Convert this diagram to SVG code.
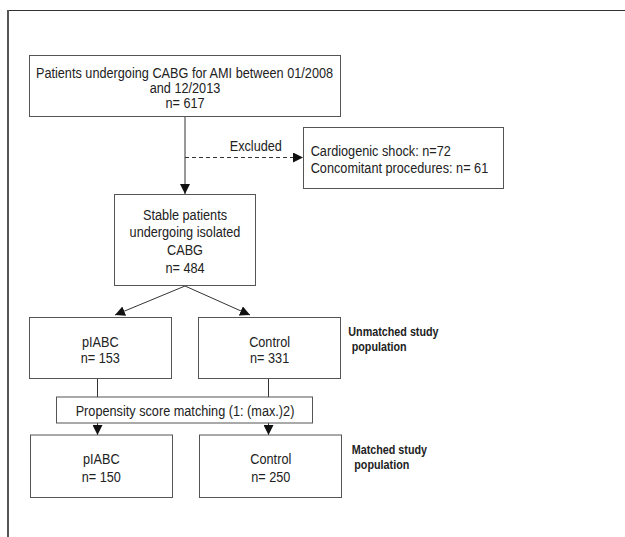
<svg xmlns="http://www.w3.org/2000/svg" width="625" height="537" viewBox="0 0 625 537">
<style>
.box{fill:#fff;stroke:#555;stroke-width:1}
.t{font-family:"Liberation Sans",Arial,sans-serif;font-size:14.5px;fill:#222;text-anchor:middle}
.tl{font-family:"Liberation Sans",Arial,sans-serif;font-size:14.5px;fill:#222;text-anchor:start}
.b{font-family:"Liberation Sans",Arial,sans-serif;font-size:12.3px;font-weight:bold;fill:#222;text-anchor:start}
.ln{stroke:#333;stroke-width:1;fill:none}
</style>
<defs>
<marker id="ah" viewBox="0 0 10 10" refX="10" refY="5" markerWidth="10" markerHeight="10" markerUnits="userSpaceOnUse" orient="auto">
<path d="M0,0 L10,5 L0,10 z" fill="#111"/>
</marker>
</defs>
<rect x="0" y="0" width="625" height="537" fill="#fff"/>
<g id="frame">
<line x1="7" y1="10.5" x2="625" y2="10.5" stroke="#333" stroke-width="1"/>
<line x1="8" y1="10" x2="8" y2="537" stroke="#555" stroke-width="2"/>
</g>
<g id="connectors">
<line class="ln" x1="185" y1="117" x2="185" y2="194" marker-end="url(#ah)"/>
<line class="ln" x1="185" y1="157.5" x2="303" y2="157.5" stroke-dasharray="4,3" marker-end="url(#ah)"/>
<line class="ln" x1="185" y1="286" x2="115" y2="315" marker-end="url(#ah)"/>
<line class="ln" x1="185" y1="286" x2="250" y2="315" marker-end="url(#ah)"/>
<line class="ln" x1="97.5" y1="379" x2="97.5" y2="397"/>
<line class="ln" x1="268.5" y1="379" x2="268.5" y2="397"/>
<line class="ln" x1="97.5" y1="423" x2="97.5" y2="435" marker-end="url(#ah)"/>
<line class="ln" x1="268.5" y1="423" x2="268.5" y2="435" marker-end="url(#ah)"/>
<text class="t" font-size="16" transform="translate(255.8,150.5) scale(0.876,1)">Excluded</text>
</g>
<g id="n-top">
<rect class="box" x="29.5" y="55.5" width="311" height="61"/>
<text class="t" transform="translate(184.5,77.5) scale(0.876,1)">Patients undergoing CABG for AMI between 01/2008</text>
<text class="t" transform="translate(185,92.5) scale(0.876,1)">and 12/2013</text>
<text class="t" transform="translate(185,107.5) scale(0.876,1)">n= 617</text>
</g>
<g id="n-excluded">
<rect class="box" x="303.5" y="127.5" width="200" height="61"/>
<text class="tl" transform="translate(310.7,156) scale(0.876,1)">Cardiogenic shock: n=72</text>
<text class="tl" transform="translate(310.7,172.5) scale(0.876,1)">Concomitant procedures: n= 61</text>
</g>
<g id="n-stable">
<rect class="box" x="114.5" y="194.5" width="141" height="91"/>
<text class="t" transform="translate(185,220) scale(0.876,1)">Stable patients</text>
<text class="t" transform="translate(185,237) scale(0.876,1)">undergoing isolated</text>
<text class="t" transform="translate(185,255) scale(0.876,1)">CABG</text>
<text class="t" transform="translate(185,272.5) scale(0.876,1)">n= 484</text>
</g>
<g id="n-piabc1">
<rect class="box" x="29.5" y="317.5" width="142" height="61"/>
<text class="t" transform="translate(100.3,346.5) scale(0.876,1)">pIABC</text>
<text class="t" transform="translate(100.3,363.3) scale(0.876,1)">n= 153</text>
</g>
<g id="n-control1">
<rect class="box" x="198.5" y="317.5" width="142" height="61"/>
<text class="t" transform="translate(269.6,346.5) scale(0.876,1)">Control</text>
<text class="t" transform="translate(269.6,363.3) scale(0.876,1)">n= 331</text>
</g>
<g id="l-unmatched">
<text class="b" transform="translate(348.3,336) scale(0.876,1)">Unmatched study</text>
<text class="b" transform="translate(351.7,350.5) scale(0.876,1)">population</text>
</g>
<g id="n-psm">
<rect class="box" x="56.5" y="397" width="256" height="26"/>
<text class="t" transform="translate(185,416) scale(0.876,1)">Propensity score matching (1: (max.)2)</text>
</g>
<g id="n-piabc2">
<rect class="box" x="30.5" y="435" width="142" height="62.5"/>
<text class="t" transform="translate(101.3,464.3) scale(0.876,1)">pIABC</text>
<text class="t" transform="translate(101.3,481.7) scale(0.876,1)">n= 150</text>
</g>
<g id="n-control2">
<rect class="box" x="199.5" y="435" width="142" height="62.5"/>
<text class="t" transform="translate(270.8,464.3) scale(0.876,1)">Control</text>
<text class="t" transform="translate(270.8,481.7) scale(0.876,1)">n= 250</text>
</g>
<g id="l-matched">
<text class="b" transform="translate(351.7,454) scale(0.876,1)">Matched study</text>
<text class="b" transform="translate(354.3,469) scale(0.876,1)">population</text>
</g>
</svg>
